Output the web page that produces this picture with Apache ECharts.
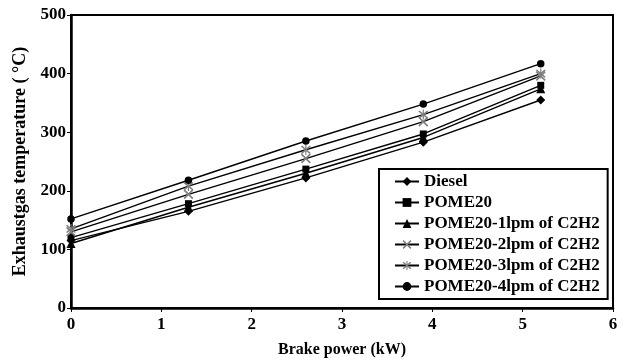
<!DOCTYPE html>
<html><head><meta charset="utf-8">
<script src="https://cdn.jsdelivr.net/npm/echarts@6/dist/echarts.min.js"></script>
<style>html,body{margin:0;padding:0;background:#fff}#c{width:625px;height:363px}</style>
</head><body><div id="c"></div>
<script>
var brakePower = [0, 1.3, 2.6, 3.9, 5.2];
var seriesNames = ['Diesel', 'POME20', 'POME20-1lpm of C2H2', 'POME20-2lpm of C2H2', 'POME20-3lpm of C2H2', 'POME20-4lpm of C2H2'];
var diesel = [115, 165, 222, 283, 355];
var pome20 = [120, 178, 237, 297, 380];
var pome1 = [110, 172, 230, 291, 374];
var pome2 = [130, 194, 255, 318, 396];
var pome3 = [135, 208, 270, 330, 400];
var pome4 = [152, 218, 285, 348, 417];
var xTicks = [0, 1, 2, 3, 4, 5, 6];
var yTicks = [0, 100, 200, 300, 400, 500];

var values = [diesel, pome20, pome1, pome2, pome3, pome4];
var X = 'path://M0,1.2 L1.2,0 L10,8.8 L8.8,10 Z M8.8,0 L10,1.2 L1.2,10 L0,8.8 Z';
var AST = 'path://M0,1.2 L1.2,0 L10,8.8 L8.8,10 Z M8.8,0 L10,1.2 L1.2,10 L0,8.8 Z M4.4,-1 L5.6,-1 L5.6,11 L4.4,11 Z';
var symbols = ['diamond', 'rect', 'triangle', X, AST, 'circle'];
var sizes = [9, 7, 9, 10, 10, 7.5];
var colors = ['#000', '#000', '#000', '#808080', '#808080', '#000'];
var font = 'Liberation Serif';

var series = values.map(function (v, i) {
  return {
    name: seriesNames[i], type: 'line',
    data: v.map(function (y, j) { return [brakePower[j], y]; }),
    symbol: symbols[i], symbolSize: sizes[i], showSymbol: true,
    lineStyle: { color: '#000', width: 1.4 },
    itemStyle: { color: colors[i] },
    emphasis: { disabled: true },
    animation: false
  };
});

var chart = echarts.init(document.getElementById('c'));
chart.setOption({
  animation: false,
  grid: { left: 71, right: 12, top: 15, bottom: 51, show: true, borderColor: '#000', borderWidth: 2 },
  legend: {
    data: seriesNames, orient: 'vertical', left: 379, top: 169,
    backgroundColor: '#fff', borderColor: '#000', borderWidth: 2,
    padding: [4, 8, 4, 15], itemGap: 4, itemWidth: 24, itemHeight: 11,
    textStyle: { fontFamily: font, fontWeight: 'bold', fontSize: 17, color: '#000' }
  },
  xAxis: {
    type: 'value', min: xTicks[0], max: xTicks[xTicks.length - 1], interval: 1,
    name: 'Brake power (kW)', nameLocation: 'middle', nameGap: 34,
    nameTextStyle: { fontFamily: font, fontWeight: 'bold', fontSize: 16, color: '#000' },
    axisLine: { lineStyle: { color: '#000', width: 2.5 } },
    axisTick: { show: true, length: 4, lineStyle: { color: '#000', width: 1 } },
    axisLabel: { margin: 8, fontFamily: font, fontWeight: 'bold', fontSize: 17, color: '#000' },
    splitLine: { show: false }
  },
  yAxis: {
    type: 'value', min: yTicks[0], max: yTicks[yTicks.length - 1], interval: 100,
    name: 'Exhaustgas temperature ( \u00B0C)', nameLocation: 'middle', nameGap: 39,
    nameTextStyle: { fontFamily: font, fontWeight: 'bold', fontSize: 18, color: '#000' },
    axisLine: { show: true, lineStyle: { color: '#000', width: 2.5 } },
    axisTick: { show: true, length: 4, lineStyle: { color: '#000', width: 1 } },
    axisLabel: { margin: 5, fontFamily: font, fontWeight: 'bold', fontSize: 17, color: '#000' },
    splitLine: { show: false }
  },
  series: series
});
</script></body></html>
